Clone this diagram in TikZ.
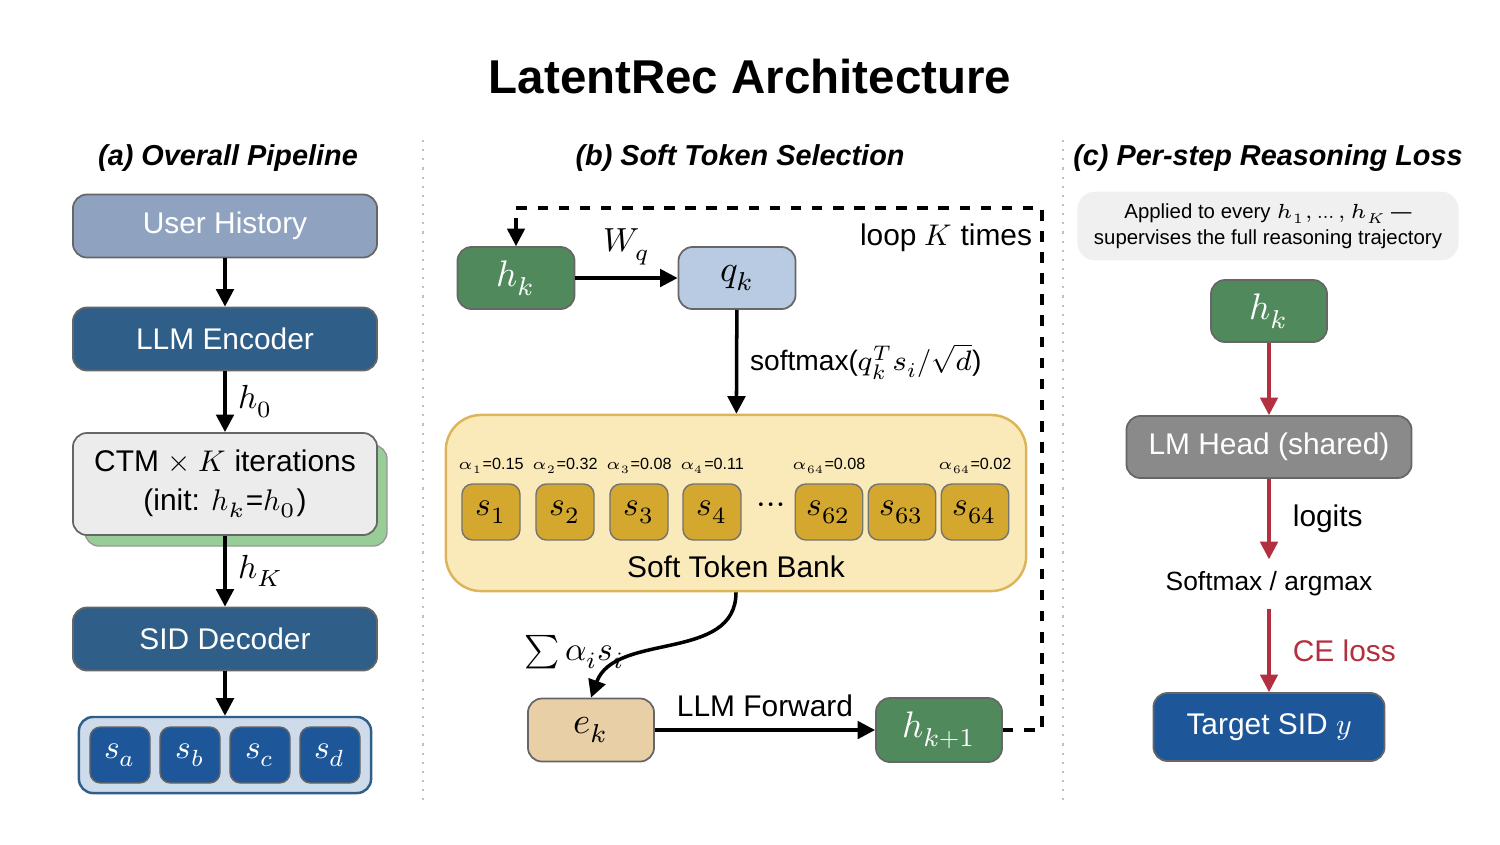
\documentclass[tikz,border=0pt]{standalone}
\usepackage{amsmath}
\usepackage{fontspec}
\usepackage{unicode-math}
\setmainfont{Liberation Sans}
\setmathfont{Latin Modern Math}
\usetikzlibrary{positioning, arrows.meta, shadows}

\definecolor{histblue}{HTML}{8FA3C0}
\definecolor{encblue}{HTML}{2F5F88}
\definecolor{sidblue}{HTML}{1D5799}
\definecolor{tokgreen}{HTML}{508A5C}
\definecolor{qblue}{HTML}{B9CBE2}
\definecolor{bankfill}{HTML}{FBEAB9}
\definecolor{bankdraw}{HTML}{DDB45A}
\definecolor{softgold}{HTML}{D4A82E}
\definecolor{efill}{HTML}{E8CFA6}
\definecolor{headgray}{HTML}{8A8A8A}
\definecolor{lossred}{HTML}{B2303F}

\tikzset{
  box/.style={draw=black!60, rounded corners=4pt, minimum width=#1, inner sep=0pt, line width=0.5pt},
  box/.default=3.04cm,
  darkbox/.style={box, fill=encblue, text=white, minimum height=0.63cm, font=\fontsize{8.5}{10}\selectfont},
  bankbox/.style={draw=black!55, rounded corners=3pt, fill=softgold, minimum width=0.58cm, minimum height=0.56cm, font=\fontsize{9.5}{10}\selectfont},
  sidbox/.style={draw=black!60, rounded corners=3pt, fill=sidblue, text=white, minimum width=0.6cm, minimum height=0.56cm, font=\fontsize{9.5}{10}\selectfont},
  alph/.style={font=\fontsize{4.6}{6}\selectfont, inner sep=0pt},
  heading/.style={font=\fontsize{8.2}{10}\selectfont\bfseries\itshape},
  arr/.style={-{Triangle[length=5pt,width=5pt]}, line width=1pt},
  redarr/.style={arr, draw=lossred, line width=0.9pt}
}

\begin{document}
\begin{tikzpicture}[x=0.01cm, y=-0.01cm]
	\useasboundingbox (0,0) rectangle (1500,844);
	\node[font=\fontsize{13.5}{15}\selectfont\bfseries] (title) at (750,77) {LatentRec Architecture};
	
	% separators
	\draw[gray!50, dotted, line width=0.6pt] (423,140) -- (423,800);
	\draw[gray!50, dotted, line width=0.6pt] (1063,140) -- (1063,800);
	
	% (a) overall pipeline
	\node[heading] (heada) at (228,158) {(a) Overall Pipeline};
	\node[box, fill=histblue, text=white, minimum height=0.63cm, font=\fontsize{8.5}{10}\selectfont] (hist) at (225,226) {User History};
	\node[darkbox] (enc) at (225,339) {LLM Encoder};
	\fill[green!35!gray!60, draw=black!40, rounded corners=4pt] (85,445) rectangle (387,546);
	\node[box, fill=gray!15, minimum height=1.02cm, align=center, font=\fontsize{8.5}{11}\selectfont] (ctm) at (225,484) {CTM $\times$ $K$ iterations\\(init: $h_k$=$h_0$)};
	\node[darkbox] (dec) at (225,639) {SID Decoder};
	\node[draw=encblue, rounded corners=4pt, fill=qblue!70, minimum width=2.92cm, minimum height=0.76cm, line width=0.7pt] (sids) at (225,755) {};
	\foreach \name/\sub [count=\i] in {sa/a, sb/b, sc/c, sd/d}
		\node[sidbox] (\name) at (50+70*\i,755) {$s_\sub$};
	\draw[arr] (hist) -- (enc);
	\draw[arr] (enc) -- node[right, font=\fontsize{9.5}{10}\selectfont] {$h_0$} (ctm);
	\draw[arr] (ctm) -- node[right, font=\fontsize{9.5}{10}\selectfont] {$h_K$} (dec);
	\draw[arr] (dec) -- (sids);
	
	% (b) soft token selection
	\node[heading] (headb) at (740,158) {(b) Soft Token Selection};
	\node[box=1.17cm, fill=tokgreen, text=white, minimum height=0.62cm, font=\fontsize{10.5}{11}\selectfont] (hk) at (516,278) {$h_k$};
	\node[box=1.17cm, fill=qblue, minimum height=0.62cm, font=\fontsize{10.5}{11}\selectfont] (qk) at (737,278) {$q_k$};
	\draw[arr] (hk) -- node[above, font=\fontsize{9.5}{10}\selectfont] {$W_q$} (qk);
	\node[draw=bankdraw, fill=bankfill, rounded corners=10pt, minimum width=5.8cm, minimum height=1.76cm, line width=0.7pt] (bank) at (736,503) {};
	\draw[arr] (qk) -- node[right, font=\fontsize{8}{10}\selectfont] {softmax($q_k^{T}s_i/\sqrt{d}$)} (bank);
	\foreach \name/\xx/\sub in {s1/491/1, s2/565/2, s3/639/3, s4/712/4, s62/829/62, s63/902/63, s64/975/64}
		\node[bankbox] (\name) at (\xx,512) {$s_{\sub}$};
	\node (dots) at (771,508) {$\cdots$};
	\foreach \xx/\lab in {491/{$\alpha_1$=0.15}, 565/{$\alpha_2$=0.32}, 639/{$\alpha_3$=0.08}, 712/{$\alpha_4$=0.11}, 829/{$\alpha_{64}$=0.08}, 975/{$\alpha_{64}$=0.02}}
		\node[alph] at (\xx,466) {\lab};
	\node[font=\fontsize{8.5}{10}\selectfont] (banklab) at (736,567) {Soft Token Bank};
	\node[box=1.26cm, fill=efill, minimum height=0.63cm, font=\fontsize{10.5}{11}\selectfont] (ek) at (591,730) {$e_k$};
	\node[box=1.26cm, fill=tokgreen, text=white, minimum height=0.64cm, font=\fontsize{10.5}{11}\selectfont] (hk1) at (939,730) {$h_{k+1}$};
	\draw[arr] (ek) -- node[above, font=\fontsize{8.5}{10}\selectfont] {LLM Forward} (hk1);
	\draw[arr] (bank.south) to[out=-90, in=70] node[pos=0.6, left=4pt, font=\fontsize{9.5}{10}\selectfont] {$\sum \alpha_i s_i$} (ek.north);
	\draw[arr, dashed, line width=0.9pt] (hk1.east) -- (1042,730) -- (1042,208) -- (516,208) -- (hk.north);
	\node[font=\fontsize{8.5}{10}\selectfont] (looplab) at (946,238) {loop $K$ times};
	
	% (c) per-step reasoning loss
	\node[heading] (headc) at (1268,158) {(c) Per-step Reasoning Loss};
	\node[fill=gray!12, rounded corners=5pt, minimum width=3.81cm, minimum height=0.67cm, align=center, font=\fontsize{5.8}{7.5}\selectfont] (note) at (1268,226) {Applied to every $h_1,\ldots,h_K$ ---\\supervises the full reasoning trajectory};
	\node[box=1.16cm, fill=tokgreen, text=white, minimum height=0.62cm, font=\fontsize{10.5}{11}\selectfont] (hkc) at (1269,311) {$h_k$};
	\node[box=2.85cm, fill=headgray, text=white, minimum height=0.62cm, font=\fontsize{8.5}{10}\selectfont] (head) at (1269,447) {LM Head (shared)};
	\node[font=\fontsize{7.5}{9}\selectfont] (smax) at (1269,584) {Softmax / argmax};
	\node[box=2.31cm, fill=sidblue, text=white, minimum height=0.68cm, font=\fontsize{8.5}{10}\selectfont] (target) at (1269,727) {Target SID $y$};
	\draw[redarr] (hkc) -- (head);
	\draw[redarr] (head) -- node[right=3pt, font=\fontsize{8.5}{10}\selectfont] {logits} (smax);
	\draw[redarr] (smax) -- node[right=3pt, text=lossred, font=\fontsize{8.5}{10}\selectfont] {CE loss} (target);
\end{tikzpicture}
\end{document}
